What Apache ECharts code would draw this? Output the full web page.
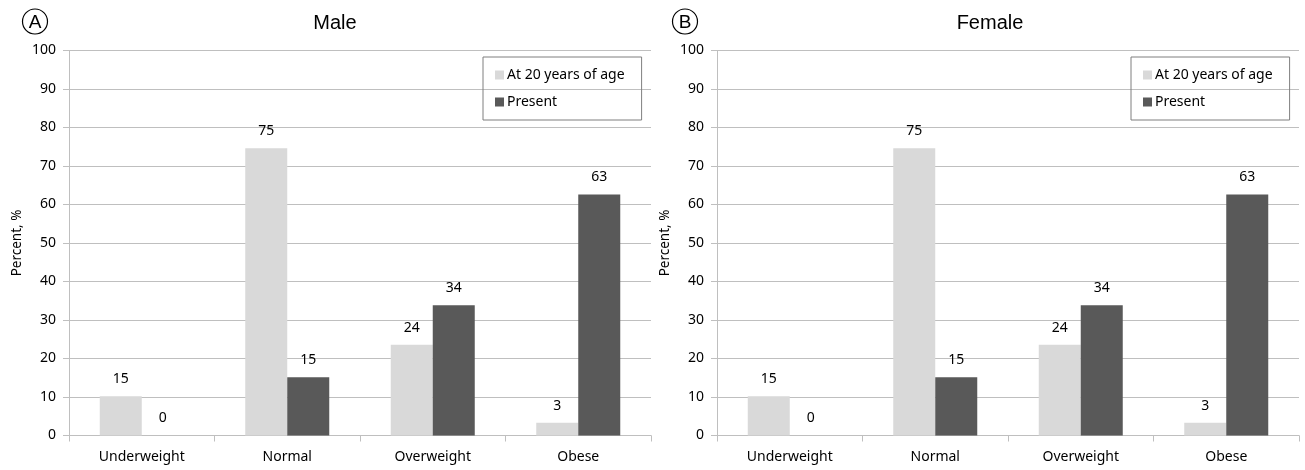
<!DOCTYPE html>
<html>
<head>
<meta charset="utf-8">
<script src="https://cdn.jsdelivr.net/npm/echarts@6/dist/echarts.min.js"></script>
<style>html,body{margin:0;padding:0;background:#fff;}#c{width:1305px;height:470px;}</style>
</head>
<body>
<div id="c"></div>
<script>
const categories = ['Underweight', 'Normal', 'Overweight', 'Obese'];
const seriesNames = ['At 20 years of age', 'Present'];
const maleAt20 = [10.2, 74.6, 23.6, 3.3];
const malePresent = [0, 15.1, 33.8, 62.6];
const maleAt20Labels = ['15', '75', '24', '3'];
const malePresentLabels = ['0', '15', '34', '63'];
const femaleAt20 = [10.2, 74.6, 23.6, 3.3];
const femalePresent = [0, 15.1, 33.8, 62.6];
const femaleAt20Labels = ['15', '75', '24', '3'];
const femalePresentLabels = ['0', '15', '34', '63'];
const panelTitles = ['Male', 'Female'];
const panelLetters = ['A', 'B'];
const yTicks = [0, 100, 10];

const FONT = 'Noto Sans';
const LIGHT = '#d9d9d9', DARK = '#595959';
const grids = [
  {left: 69, top: 50.5, width: 582, height: 385},
  {left: 717, top: 50.5, width: 582, height: 385}
];

const chart = echarts.init(document.getElementById('c'), null, {renderer: 'canvas'});

function xAxis(i) {
  return {
    type: 'category', gridIndex: i, data: categories,
    axisLine: {lineStyle: {color: '#bfbfbf', width: 1}},
    axisTick: {show: true, alignWithLabel: false, length: 6, lineStyle: {color: '#bfbfbf'}},
    axisLabel: {color: '#000', fontFamily: FONT, fontSize: 14, margin: 15}
  };
}
function yAxis(i) {
  return {
    type: 'value', gridIndex: i, min: yTicks[0], max: yTicks[1], interval: yTicks[2],
    name: 'Percent, %', nameLocation: 'middle', nameGap: 45, nameRotate: 90,
    nameTextStyle: {color: '#000', fontFamily: FONT, fontSize: 13.5},
    axisLine: {show: true, lineStyle: {color: '#bfbfbf', width: 1}},
    axisTick: {show: true, length: 6, lineStyle: {color: '#bfbfbf'}},
    axisLabel: {color: '#000', fontFamily: FONT, fontSize: 14, margin: 13},
    splitLine: {lineStyle: {color: '#bfbfbf', width: 1}}
  };
}
function barSeries(name, i, data, labels, color) {
  return {
    type: 'bar', name: name, xAxisIndex: i, yAxisIndex: i, data: data,
    barWidth: 42, barGap: '0%',
    itemStyle: {color: color},
    label: {show: true, position: 'top', distance: 10, color: '#000', fontFamily: FONT, fontSize: 14,
      formatter: p => labels[p.dataIndex]},
    animation: false
  };
}
function legend(i) {
  return {
    orient: 'vertical', left: grids[i].left + 414, top: 57,
    data: seriesNames, itemWidth: 9, itemHeight: 9, itemGap: 11,
    padding: [10, 17, 10, 12], borderColor: '#7f7f7f', borderWidth: 1,
    icon: 'rect', textStyle: {color: '#000', fontFamily: FONT, fontSize: 14, lineHeight: 16, padding: [0, 0, 0, -2]},
    selectedMode: false
  };
}
const graphics = [];
[35, 685].forEach((cx, i) => {
  graphics.push({type: 'circle', shape: {cx: cx, cy: 21.5, r: 12.5}, style: {fill: 'none', stroke: '#000', lineWidth: 1.2}});
  graphics.push({type: 'text', x: cx, y: 22.5, style: {text: panelLetters[i], fill: '#000', font: '19px "Liberation Sans"', textAlign: 'center', textVerticalAlign: 'middle'}});
});

chart.setOption({
  animation: false,
  backgroundColor: '#fff',
  grid: grids,
  title: panelTitles.map((t, i) => ({
    text: t, left: (i === 0 ? 330 : 985), top: 8, textAlign: 'center',
    textStyle: {fontFamily: 'Liberation Sans', fontSize: 20, fontWeight: 'normal', color: '#000'}
  })),
  legend: [legend(0), legend(1)],
  xAxis: [xAxis(0), xAxis(1)],
  yAxis: [yAxis(0), yAxis(1)],
  series: [
    barSeries(seriesNames[0], 0, maleAt20, maleAt20Labels, LIGHT),
    barSeries(seriesNames[1], 0, malePresent, malePresentLabels, DARK),
    barSeries(seriesNames[0], 1, femaleAt20, femaleAt20Labels, LIGHT),
    barSeries(seriesNames[1], 1, femalePresent, femalePresentLabels, DARK)
  ],
  graphic: graphics
});
</script>
</body>
</html>
